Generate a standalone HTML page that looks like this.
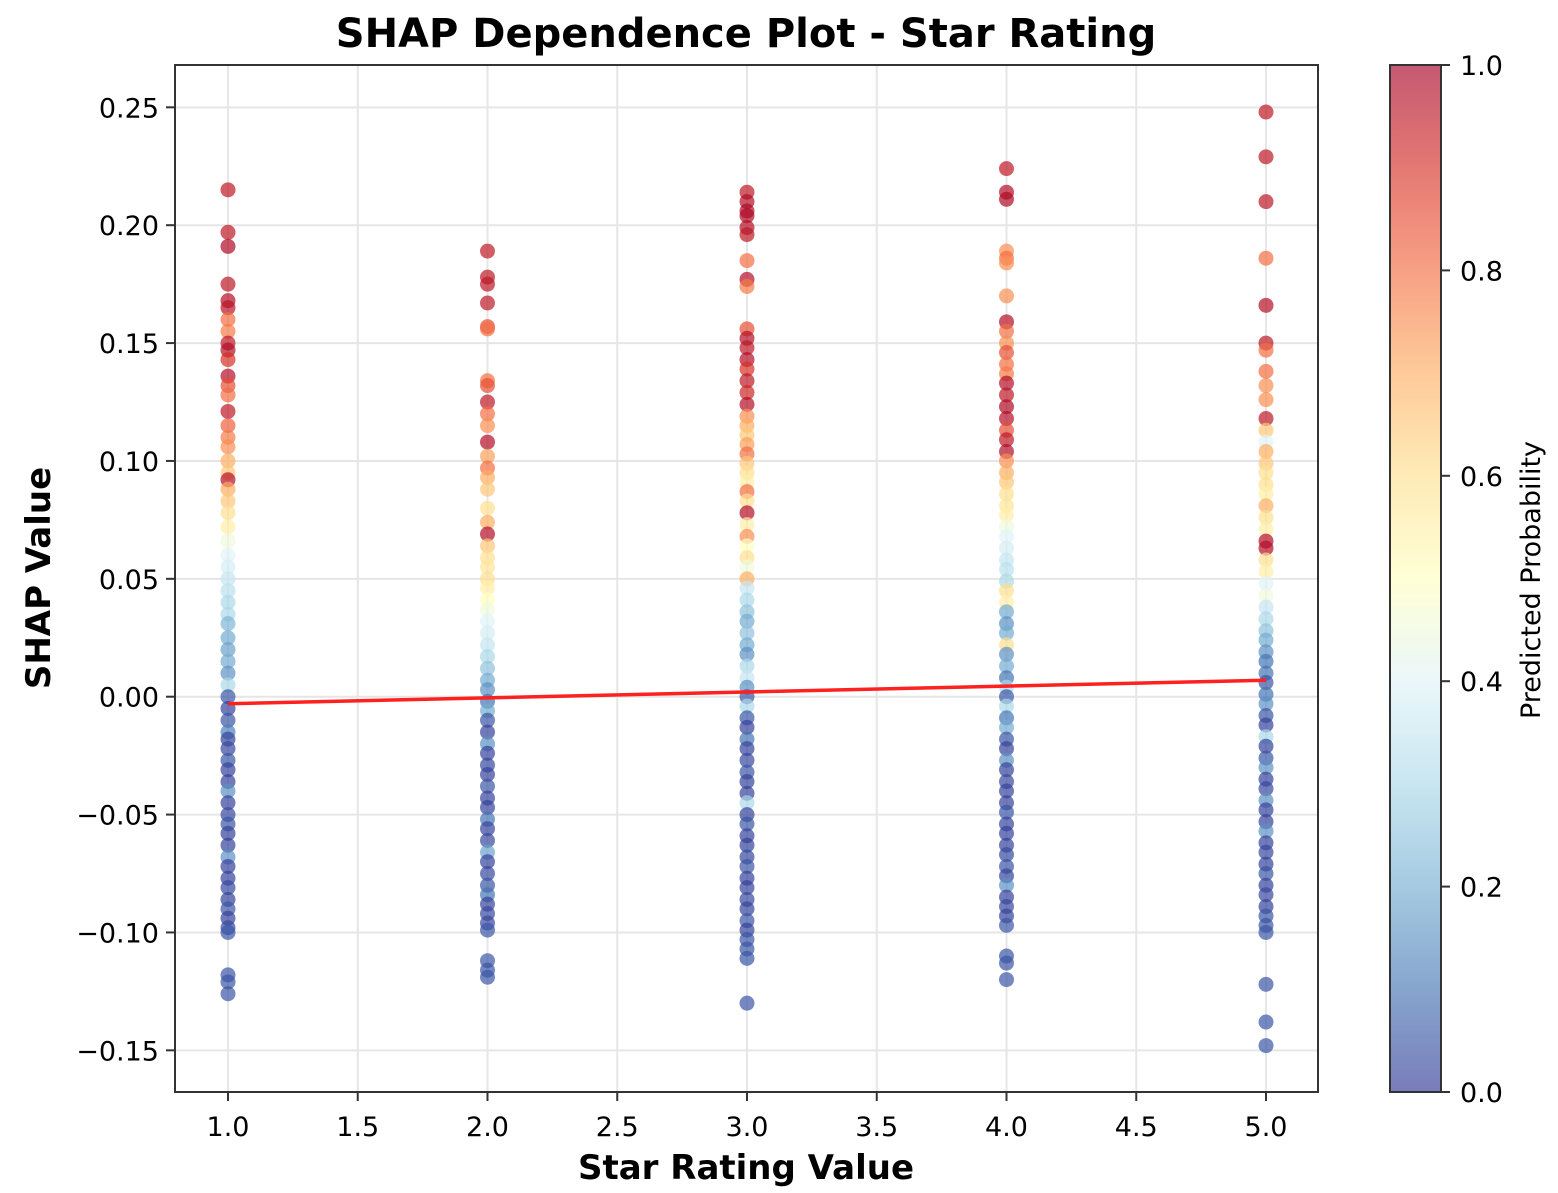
<!DOCTYPE html>
<html><head><meta charset="utf-8"><style>
html,body{margin:0;padding:0;background:#fff}
svg{display:block;font-family:"DejaVu Sans","Liberation Sans",sans-serif}
</style></head><body>
<svg id="chart" width="1558" height="1193" viewBox="0 0 1558 1193" xmlns="http://www.w3.org/2000/svg">
<defs>
<linearGradient id="cmap" x1="0" y1="1" x2="0" y2="0">
<stop offset="0" stop-color="#313695"/><stop offset="0.1" stop-color="#4575b4"/><stop offset="0.2" stop-color="#74add1"/><stop offset="0.3" stop-color="#abd9e9"/><stop offset="0.4" stop-color="#e0f3f8"/><stop offset="0.5" stop-color="#ffffbf"/><stop offset="0.6" stop-color="#fee090"/><stop offset="0.7" stop-color="#fdae61"/><stop offset="0.8" stop-color="#f46d43"/><stop offset="0.9" stop-color="#d73027"/><stop offset="1" stop-color="#a50026"/>
</linearGradient>
<clipPath id="plotclip"><rect x="175" y="65" width="1143" height="1027"/></clipPath>
</defs>
<text x="746" y="47" text-anchor="middle" font-size="40" font-weight="bold">SHAP Dependence Plot - Star Rating</text>
<g id="grid"></g>
<g id="points" clip-path="url(#plotclip)"></g>
<g id="trend"></g>
<rect x="175" y="65" width="1143" height="1027" fill="none" stroke="#333" stroke-width="2"/>
<g id="xticks"></g>
<g id="yticks"></g>
<text x="746" y="1179" text-anchor="middle" font-size="34" font-weight="bold">Star Rating Value</text>
<text transform="translate(50,578) rotate(-90)" text-anchor="middle" font-size="34" font-weight="bold">SHAP Value</text>
<rect x="1390" y="65" width="51" height="1027" fill="url(#cmap)" fill-opacity="0.65" stroke="#333" stroke-width="2"/>
<g id="cbticks"></g>
<text transform="translate(1540,580) rotate(-90)" text-anchor="middle" font-size="27">Predicted Probability</text>
</svg>
<script>
const xTicks=[1.0,1.5,2.0,2.5,3.0,3.5,4.0,4.5,5.0];
const yTicks=[-0.15,-0.10,-0.05,0.00,0.05,0.10,0.15,0.20,0.25];
const cbTicks=[0.0,0.2,0.4,0.6,0.8,1.0];
const starCategories=[1,2,3,4,5];
const trendStart=[1,-0.003];
const trendEnd=[5,0.007];
const shap1=[0.215,0.197,0.191,0.175,0.168,0.165,0.160,0.155,0.150,0.147,0.143,0.136,0.132,0.128,0.121,0.115,0.110,0.106,0.100,0.095,0.092,0.088,0.083,0.078,0.072,0.066,0.060,0.055,0.050,0.045,0.040,0.035,0.031,0.025,0.020,0.015,0.010,0.005,0.000,-0.005,-0.010,-0.015,-0.018,-0.022,-0.027,-0.031,-0.036,-0.040,-0.045,-0.050,-0.054,-0.058,-0.063,-0.068,-0.072,-0.077,-0.081,-0.086,-0.090,-0.094,-0.098,-0.100,-0.118,-0.121,-0.126];
const prob1=[0.95,0.95,0.98,0.95,0.97,0.96,0.8,0.78,0.95,0.97,0.9,0.97,0.85,0.8,0.95,0.82,0.78,0.75,0.7,0.65,0.97,0.7,0.65,0.6,0.55,0.45,0.4,0.38,0.35,0.33,0.3,0.3,0.22,0.2,0.18,0.2,0.15,0.3,0.05,0.02,0.05,0.12,0.02,0.03,0.05,0.02,0.02,0.15,0.02,0.03,0.05,0.02,0.02,0.15,0.02,0.02,0.03,0.02,0.05,0.02,0.03,0.05,0.05,0.05,0.05];
const shap2=[0.189,0.178,0.175,0.167,0.157,0.156,0.134,0.132,0.125,0.120,0.115,0.108,0.102,0.097,0.093,0.088,0.080,0.074,0.069,0.064,0.059,0.055,0.050,0.046,0.041,0.037,0.032,0.027,0.022,0.017,0.012,0.007,0.003,-0.002,-0.006,-0.010,-0.015,-0.020,-0.024,-0.029,-0.033,-0.038,-0.043,-0.047,-0.052,-0.056,-0.061,-0.066,-0.070,-0.075,-0.080,-0.084,-0.088,-0.092,-0.096,-0.099,-0.112,-0.116,-0.119];
const prob2=[0.95,0.95,0.95,0.95,0.85,0.8,0.8,0.85,0.95,0.8,0.75,0.97,0.72,0.8,0.7,0.65,0.6,0.7,0.97,0.65,0.6,0.58,0.6,0.55,0.5,0.45,0.4,0.38,0.35,0.3,0.25,0.2,0.15,0.1,0.2,0.05,0.02,0.15,0.02,0.03,0.02,0.05,0.02,0.02,0.1,0.02,0.03,0.18,0.02,0.03,0.05,0.1,0.02,0.03,0.03,0.05,0.05,0.05,0.05];
const shap3=[0.214,0.210,0.206,0.204,0.199,0.196,0.185,0.177,0.174,0.156,0.152,0.148,0.143,0.139,0.134,0.129,0.124,0.119,0.115,0.111,0.107,0.103,0.099,0.095,0.091,0.087,0.083,0.078,0.073,0.068,0.064,0.059,0.055,0.050,0.046,0.041,0.036,0.032,0.027,0.022,0.018,0.013,0.008,0.004,0.000,-0.004,-0.009,-0.013,-0.018,-0.022,-0.027,-0.032,-0.036,-0.041,-0.045,-0.050,-0.054,-0.059,-0.063,-0.068,-0.072,-0.077,-0.081,-0.086,-0.090,-0.095,-0.099,-0.103,-0.107,-0.111,-0.130];
const prob3=[0.95,0.97,0.98,0.98,0.97,0.95,0.8,0.97,0.78,0.85,0.97,0.95,0.97,0.9,0.95,0.92,0.97,0.75,0.7,0.65,0.72,0.8,0.65,0.6,0.55,0.8,0.6,0.97,0.55,0.75,0.5,0.6,0.45,0.7,0.35,0.3,0.25,0.2,0.25,0.2,0.15,0.3,0.35,0.15,0.05,0.3,0.05,0.02,0.1,0.02,0.03,0.05,0.02,0.02,0.3,0.02,0.05,0.02,0.02,0.03,0.05,0.02,0.02,0.03,0.02,0.05,0.02,0.05,0.05,0.05,0.05];
const shap4=[0.224,0.214,0.211,0.189,0.186,0.184,0.170,0.159,0.155,0.150,0.146,0.141,0.137,0.133,0.128,0.123,0.118,0.113,0.109,0.104,0.100,0.095,0.091,0.086,0.081,0.077,0.072,0.068,0.063,0.058,0.054,0.049,0.045,0.040,0.036,0.031,0.027,0.022,0.018,0.013,0.008,0.004,0.000,-0.004,-0.009,-0.013,-0.018,-0.022,-0.027,-0.031,-0.036,-0.040,-0.045,-0.049,-0.054,-0.058,-0.063,-0.067,-0.072,-0.076,-0.080,-0.085,-0.089,-0.093,-0.097,-0.110,-0.113,-0.120];
const prob4=[0.95,0.97,0.98,0.75,0.8,0.75,0.75,0.97,0.8,0.75,0.85,0.8,0.78,0.97,0.95,0.98,0.97,0.85,0.95,0.97,0.75,0.7,0.65,0.6,0.58,0.55,0.45,0.4,0.38,0.35,0.33,0.3,0.6,0.55,0.2,0.15,0.2,0.6,0.15,0.2,0.1,0.3,0.05,0.3,0.1,0.2,0.05,0.02,0.15,0.02,0.03,0.02,0.02,0.05,0.02,0.02,0.02,0.03,0.05,0.02,0.15,0.02,0.03,0.02,0.05,0.05,0.05,0.05];
const shap5=[0.248,0.229,0.210,0.186,0.166,0.150,0.147,0.138,0.132,0.126,0.118,0.113,0.108,0.104,0.099,0.095,0.090,0.086,0.081,0.076,0.071,0.066,0.063,0.058,0.053,0.048,0.043,0.038,0.033,0.028,0.024,0.019,0.015,0.010,0.006,0.001,-0.003,-0.008,-0.012,-0.017,-0.021,-0.026,-0.030,-0.035,-0.039,-0.044,-0.048,-0.053,-0.057,-0.062,-0.066,-0.071,-0.075,-0.080,-0.084,-0.089,-0.093,-0.097,-0.100,-0.122,-0.138,-0.148];
const prob5=[0.95,0.95,0.95,0.8,0.97,0.95,0.8,0.8,0.75,0.75,0.95,0.65,0.4,0.7,0.65,0.6,0.6,0.55,0.7,0.6,0.55,0.97,0.97,0.6,0.55,0.4,0.45,0.35,0.3,0.25,0.2,0.15,0.1,0.1,0.05,0.1,0.15,0.05,0.02,0.3,0.02,0.05,0.15,0.02,0.03,0.15,0.02,0.02,0.15,0.02,0.03,0.02,0.05,0.02,0.03,0.02,0.05,0.05,0.05,0.05,0.05,0.05];
const seriesShap=[shap1,shap2,shap3,shap4,shap5];
const seriesProb=[prob1,prob2,prob3,prob4,prob5];

const NS="http://www.w3.org/2000/svg";
const X0=175,X1=1318,Y0=65,Y1=1092;
function xs(v){return 228+(v-1)*259.5;}
function ys(v){return 696.7-v*2357.5;}
function cy(v){return Y1-v*(Y1-Y0);}
const stops=[[0,[49,54,149]],[0.1,[69,117,180]],[0.2,[116,173,209]],[0.3,[171,217,233]],[0.4,[224,243,248]],[0.5,[255,255,191]],[0.6,[254,224,144]],[0.7,[253,174,97]],[0.8,[244,109,67]],[0.9,[215,48,39]],[1,[165,0,38]]];
function cmap(t){t=Math.max(0,Math.min(1,t));for(let i=1;i<stops.length;i++){if(t<=stops[i][0]){const a=stops[i-1],b=stops[i],f=(t-a[0])/(b[0]-a[0]);const c=a[1].map((v,k)=>Math.round(v+(b[1][k]-v)*f));return `rgb(${c[0]},${c[1]},${c[2]})`;}}return 'rgb(165,0,38)';}
function el(tag,attrs,parent){const e=document.createElementNS(NS,tag);for(const k in attrs)e.setAttribute(k,attrs[k]);parent.appendChild(e);return e;}

const grid=document.getElementById('grid');
xTicks.forEach(t=>{const l=el('line',{x1:xs(t),x2:xs(t),y1:Y0,y2:Y1,stroke:'#e6e6e6','stroke-width':2},grid);

});
yTicks.forEach(t=>{const l=el('line',{x1:X0,x2:X1,y1:ys(t),y2:ys(t),stroke:'#e6e6e6','stroke-width':2},grid);

});

const xg=document.getElementById('xticks');
xTicks.forEach(t=>{el('line',{x1:xs(t),x2:xs(t),y1:Y1,y2:Y1+9,stroke:'#333','stroke-width':2},xg);
const tx=el('text',{x:xs(t),y:Y1+44,'text-anchor':'middle','font-size':27},xg);tx.textContent=t.toFixed(1);

});
const yg=document.getElementById('yticks');
yTicks.forEach(t=>{el('line',{x1:X0-9,x2:X0,y1:ys(t),y2:ys(t),stroke:'#333','stroke-width':2},yg);
const tx=el('text',{x:X0-16,y:ys(t)+10,'text-anchor':'end','font-size':27},yg);tx.textContent=(t<0?'\u2212':'')+Math.abs(t).toFixed(2);

});
const cg=document.getElementById('cbticks');
cbTicks.forEach(t=>{el('line',{x1:1441,x2:1450,y1:cy(t),y2:cy(t),stroke:'#333','stroke-width':2},cg);
const tx=el('text',{x:1460,y:cy(t)+10,'font-size':27},cg);tx.textContent=t.toFixed(1);

});

const pg=document.getElementById('points');
starCategories.forEach((cat,i)=>{seriesShap[i].forEach((s,j)=>{
const c=el('circle',{cx:xs(cat),cy:ys(s),r:7.5,fill:cmap(seriesProb[i][j]),'fill-opacity':0.7},pg);

});});

const tg=document.getElementById('trend');
const tl=el('line',{x1:xs(trendStart[0]),y1:ys(trendStart[1]),x2:xs(trendEnd[0]),y2:ys(trendEnd[1]),stroke:'#ff2020','stroke-width':3.5},tg);


</script>
</body></html>
